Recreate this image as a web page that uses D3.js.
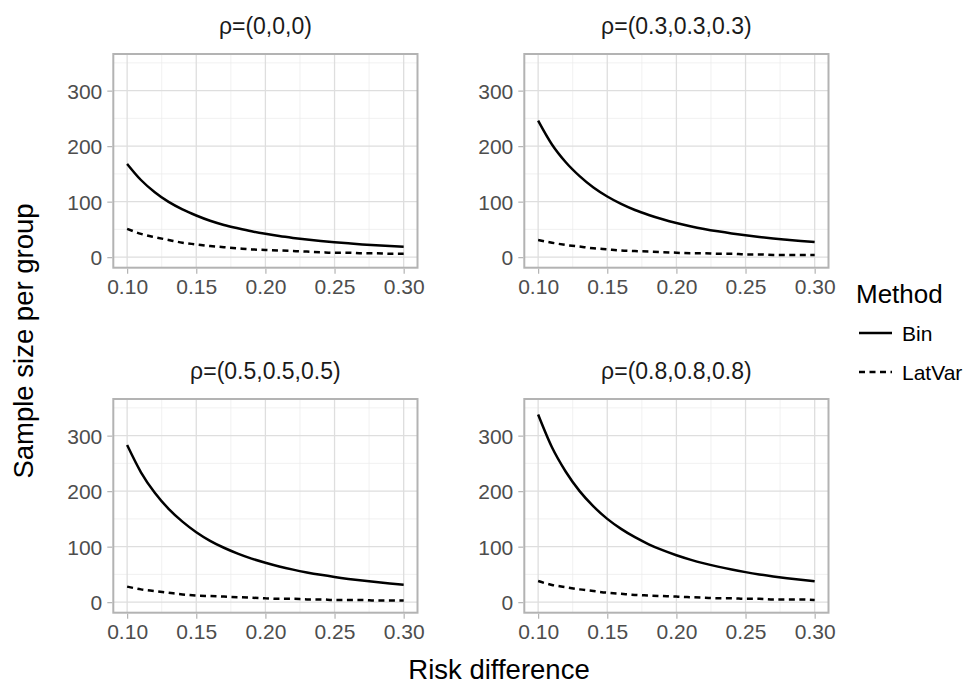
<!DOCTYPE html>
<html>
<head>
<meta charset="utf-8">
<script src="https://cdnjs.cloudflare.com/ajax/libs/d3/7.8.5/d3.min.js"></script>
<style>
  body { margin: 0; background: #fff; }
  svg { font-family: "Liberation Sans", Arial, Helvetica, sans-serif; }
</style>
</head>
<body>
<div class="canvas"></div>
<script>
// risk difference grid (x)
const riskDiff = [0.10, 0.11, 0.12, 0.13, 0.14, 0.15, 0.16, 0.17, 0.18, 0.19, 0.20,
                  0.21, 0.22, 0.23, 0.24, 0.25, 0.26, 0.27, 0.28, 0.29, 0.30];

const panelTitles = ["ρ=(0,0,0)", "ρ=(0.3,0.3,0.3)", "ρ=(0.5,0.5,0.5)", "ρ=(0.8,0.8,0.8)"];
const methods = ["Bin", "LatVar"];

// sample size per group
const binRho0  = [168, 139, 117, 99.5, 86, 75, 65.5, 58, 52, 46.5, 42, 38, 34.7, 31.8, 29.2, 26.9, 24.9, 23, 21.4, 20, 18.7];
const latRho0  = [51, 42, 36, 31, 26, 23, 20, 18, 16, 14, 13, 12, 11, 10, 9, 8, 8, 7, 7, 6, 6];
const binRho3  = [246, 203, 171, 146, 125.5, 109.3, 96, 85, 76, 68.2, 61.5, 55.8, 50.8, 46.5, 42.7, 39.4, 36.4, 33.7, 31.4, 29.2, 27.3];
const latRho3  = [31, 26, 22, 19, 16, 14, 12, 11, 10, 9, 8, 7, 7, 6, 6, 5, 5, 4, 4, 4, 4];
const binRho5  = [283, 234, 197, 168, 145, 126, 110.5, 98, 87.5, 78.5, 71, 64.3, 58.6, 53.6, 49.2, 45.3, 41.9, 38.9, 36.2, 33.7, 31.5];
const latRho5  = [28, 23, 20, 17, 14, 12, 11, 10, 9, 8, 7, 6, 6, 5, 5, 4, 4, 4, 3, 3, 3];
const binRho8  = [338, 279, 235, 200, 172.5, 150, 132, 117, 104.3, 93.6, 84.5, 76.7, 69.9, 64, 58.7, 54.1, 50, 46.4, 43.1, 40.2, 37.6];
const latRho8  = [38, 31, 27, 23, 20, 17, 15, 13, 12, 11, 10, 9, 8, 7, 7, 6, 6, 5, 5, 5, 4];

const xTicks = [0.10, 0.15, 0.20, 0.25, 0.30];
const xMinor = [0.125, 0.175, 0.225, 0.275];
const yTicks = [0, 100, 200, 300];
const yMinor = [50, 150, 250, 350];

const panels = [
  { title: panelTitles[0], bin: binRho0, lat: latRho0 },
  { title: panelTitles[1], bin: binRho3, lat: latRho3 },
  { title: panelTitles[2], bin: binRho5, lat: latRho5 },
  { title: panelTitles[3], bin: binRho8, lat: latRho8 }
];

const dims = { width: 968, height: 690, pw: 304.2, ph: 213.7 };
const colX = [113.3, 524.3];
const rowY = [54, 399];

const svg = d3.select(".canvas")
  .append("svg")
  .attr("width", dims.width)
  .attr("height", dims.height);

const x = d3.scaleLinear().domain([0.09, 0.31]).range([0, dims.pw]);
const y = d3.scaleLinear().domain([-19, 366]).range([dims.ph, 0]);

const line = d3.line()
  .curve(d3.curveMonotoneX)
  .x(d => x(d.rd))
  .y(d => y(d.n));

const dashStyle = { Bin: null, LatVar: "6,4.5" };

panels.forEach((p, i) => {
  const g = svg.append("g")
    .attr("transform", `translate(${colX[i % 2]},${rowY[Math.floor(i / 2)]})`);

  // minor grid
  g.selectAll(".xminor").data(xMinor).enter().append("line")
    .attr("x1", d => x(d)).attr("x2", d => x(d))
    .attr("y1", 0).attr("y2", dims.ph)
    .attr("stroke", "#ebebeb").attr("stroke-width", 0.7);
  g.selectAll(".yminor").data(yMinor).enter().append("line")
    .attr("y1", d => y(d)).attr("y2", d => y(d))
    .attr("x1", 0).attr("x2", dims.pw)
    .attr("stroke", "#ebebeb").attr("stroke-width", 0.7);

  // major grid
  g.selectAll(".xmajor").data(xTicks).enter().append("line")
    .attr("x1", d => x(d)).attr("x2", d => x(d))
    .attr("y1", 0).attr("y2", dims.ph)
    .attr("stroke", "#dedede").attr("stroke-width", 1.3);
  g.selectAll(".ymajor").data(yTicks).enter().append("line")
    .attr("y1", d => y(d)).attr("y2", d => y(d))
    .attr("x1", 0).attr("x2", dims.pw)
    .attr("stroke", "#dedede").attr("stroke-width", 1.3);

  // lines
  const series = [
    { method: "Bin", values: riskDiff.map((rd, j) => ({ rd, n: p.bin[j] })) },
    { method: "LatVar", values: riskDiff.map((rd, j) => ({ rd, n: p.lat[j] })) }
  ];
  g.selectAll(".series").data(series).enter().append("path")
    .attr("d", d => line(d.values))
    .attr("fill", "none")
    .attr("stroke", "#000")
    .attr("stroke-width", 2.5)
    .attr("stroke-dasharray", d => dashStyle[d.method]);

  // panel border
  g.append("rect")
    .attr("width", dims.pw).attr("height", dims.ph)
    .attr("fill", "none").attr("stroke", "#b3b3b3").attr("stroke-width", 2);

  // axes
  const xAxis = g.append("g")
    .attr("transform", `translate(0,${dims.ph + 1})`)
    .call(d3.axisBottom(x).tickValues(xTicks).tickFormat(d3.format(".2f")).tickSize(5).tickPadding(5));
  const yAxis = g.append("g")
    .attr("transform", "translate(-1,0)")
    .call(d3.axisLeft(y).tickValues(yTicks).tickSize(5).tickPadding(5));
  [xAxis, yAxis].forEach(a => {
    a.select(".domain").remove();
    a.selectAll(".tick line").attr("stroke", "#b3b3b3").attr("stroke-width", 1.2);
    a.selectAll("text").attr("fill", "#4d4d4d").style("font-size", "21px");
  });
  yAxis.selectAll("text").attr("dy", "0.36em");

  // strip title
  g.append("text")
    .attr("x", dims.pw / 2).attr("y", -20)
    .attr("text-anchor", "middle")
    .attr("fill", "#1a1a1a")
    .style("font-size", "23px")
    .text(p.title);
});

// axis titles
svg.append("text")
  .attr("x", 499).attr("y", 679)
  .attr("text-anchor", "middle")
  .style("font-size", "27.5px")
  .text("Risk difference");

svg.append("text")
  .attr("transform", "translate(32.7,341) rotate(-90)")
  .attr("text-anchor", "middle")
  .style("font-size", "27.5px")
  .text("Sample size per group");

// legend
const legend = svg.append("g");
legend.append("text")
  .attr("x", 856).attr("y", 302.7)
  .style("font-size", "26px")
  .text("Method");

const keys = legend.selectAll(".key").data(methods).enter().append("g")
  .attr("transform", (d, i) => `translate(0,${333 + i * 39})`);
keys.append("line")
  .attr("x1", 859).attr("x2", 892)
  .attr("stroke", "#000").attr("stroke-width", 2.5)
  .attr("stroke-dasharray", d => dashStyle[d]);
keys.append("text")
  .attr("x", 902).attr("y", 8)
  .style("font-size", "21px")
  .text(d => d);
</script>
</body>
</html>
